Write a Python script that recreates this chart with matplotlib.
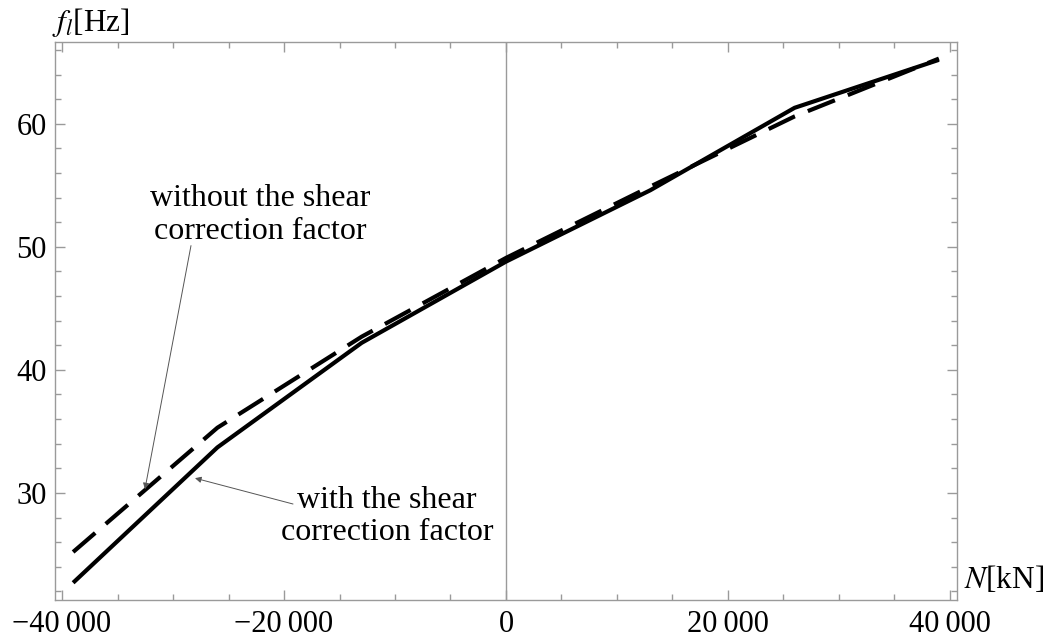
import matplotlib.pyplot as plt
from matplotlib.ticker import MultipleLocator, FixedLocator

plt.rcParams["font.family"] = ["Liberation Serif", "DejaVu Serif"]
plt.rcParams["mathtext.fontset"] = "stix"
plt.rcParams["lines.scale_dashes"] = False

# axial force N [kN] and natural frequency f_l [Hz]
force = [-39000, -26000, -13000, 0, 13000, 26000, 39000]
f_with_shear = [22.7, 33.7, 42.2, 48.8, 54.6, 61.3, 65.2]
f_without_shear = [25.2, 35.3, 42.7, 49.1, 54.9, 60.6, 65.3]

x_major = [-40000, -20000, 0, 20000, 40000]
x_labels = ["\u221240\u2009000", "\u221220\u2009000", "0", "20\u2009000", "40\u2009000"]
y_major = [30, 40, 50, 60]

frame_col = "#9a9a9a"

fig = plt.figure(figsize=(10.5, 6.41), dpi=100)
ax = fig.add_axes([0.0524, 0.064, 0.8590, 0.8705])

ax.plot(force, f_with_shear, color="black", lw=3.0, solid_capstyle="butt")
ax.plot(force, f_without_shear, color="black", lw=3.0, dashes=(21, 10),
        dash_capstyle="butt")

ax.set_xlim(-40630, 40630)
ax.set_ylim(21.3, 66.65)

# vertical axis line at N = 0
ax.axvline(0, color=frame_col, lw=1.0, zorder=0)

ax.xaxis.set_major_locator(FixedLocator(x_major))
ax.set_xticklabels(x_labels)
ax.xaxis.set_minor_locator(MultipleLocator(5000))
ax.yaxis.set_major_locator(FixedLocator(y_major))
ax.yaxis.set_minor_locator(MultipleLocator(2))

for s in ax.spines.values():
    s.set_color(frame_col)
    s.set_linewidth(1.0)

ax.tick_params(which="both", direction="in", top=True, right=True,
               color=frame_col, width=1.0, labelsize=22, labelcolor="black")
ax.tick_params(which="major", length=7)
ax.tick_params(which="minor", length=4.5)
ax.tick_params(axis="x", which="major", pad=7)
ax.tick_params(axis="y", which="major", pad=6)

# axis labels (Mathematica style, at the ends of the axes)
fig.text(0.050, 0.951, "$f_l$[Hz]", fontsize=22.5, ha="left", va="baseline")
fig.text(0.918, 0.083, "$N$[kN]", fontsize=22.5, ha="left", va="baseline")

arrow_kw = dict(arrowstyle="-|>", color="#555555", lw=0.7, mutation_scale=9,
                shrinkA=0, shrinkB=0)

ax.text(-22165, 52.6, "without the shear\ncorrection factor", fontsize=23,
        ha="center", va="center", linespacing=1.15)
ax.annotate("", xy=(-32530, 30.3), xytext=(-28380, 50.1),
            arrowprops=arrow_kw)

ax.text(-10700, 28.1, "with the shear\ncorrection factor", fontsize=23,
        ha="center", va="center", linespacing=1.15)
ax.annotate("", xy=(-28020, 31.2), xytext=(-19190, 29.1),
            arrowprops=arrow_kw)

fig.savefig("out.png", dpi=100)
